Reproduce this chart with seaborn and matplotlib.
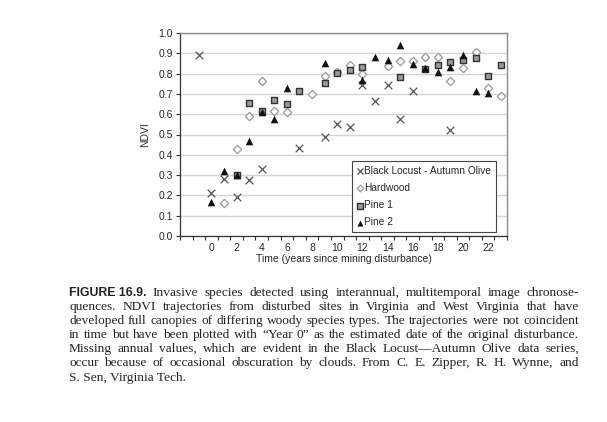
import numpy as np
import pandas as pd
import matplotlib
matplotlib.use('Agg')
import matplotlib.pyplot as plt
import seaborn as sns

# NDVI, year 0 = estimated disturbance date
bl_years = [-1, 0, 1, 2, 3, 4, 7, 9, 10, 11, 12, 13, 14, 15, 16, 19]
bl_ndvi = [0.89, 0.21, 0.28, 0.19, 0.275, 0.33, 0.435, 0.487, 0.554, 0.539,
           0.742, 0.665, 0.746, 0.575, 0.715, 0.521]
hw_years = [1, 2, 3, 4, 5, 6, 8, 9, 10, 11, 12, 14, 15, 16, 17, 18, 19, 20, 21, 22, 23]
hw_ndvi = [0.161, 0.431, 0.59, 0.764, 0.615, 0.61, 0.698, 0.787, 0.81, 0.843, 0.80,
           0.838, 0.862, 0.861, 0.884, 0.884, 0.762, 0.828, 0.907, 0.73, 0.69]
p1_years = [2, 3, 4, 5, 6, 7, 9, 10, 11, 12, 15, 17, 18, 19, 20, 21, 22, 23]
p1_ndvi = [0.30, 0.654, 0.615, 0.669, 0.649, 0.713, 0.754, 0.804, 0.818, 0.832,
           0.784, 0.825, 0.843, 0.857, 0.869, 0.877, 0.786, 0.841]
p2_years = [0, 1, 2, 3, 4, 5, 6, 9, 12, 13, 14, 15, 16, 17, 18, 19, 20, 21, 22]
p2_ndvi = [0.166, 0.32, 0.30, 0.467, 0.61, 0.577, 0.728, 0.853, 0.767, 0.882,
           0.866, 0.94, 0.845, 0.83, 0.81, 0.833, 0.89, 0.712, 0.703]

x_labels = list(range(0, 23, 2))
y_ticks = [round(v * 0.1, 1) for v in range(0, 11)]

caption = [
    "Invasive species detected using interannual, multitemporal image chronose-",
    "quences. NDVI trajectories from disturbed sites in Virginia and West Virginia that have",
    "developed full canopies of differing woody species types. The trajectories were not coincident",
    "in time but have been plotted with \u201cYear 0\u201d as the estimated date of the original disturbance.",
    "Missing annual values, which are evident in the Black Locust\u2014Autumn Olive data series,",
    "occur because of occasional obscuration by clouds. From C. E. Zipper, R. H. Wynne, and",
    "S. Sen, Virginia Tech.",
]

sns.set_theme(style="ticks")
plt.rcParams['font.family'] = ['Liberation Sans', 'DejaVu Sans']

W, H = 607, 422
fig = plt.figure(figsize=(W / 100, H / 100), dpi=100)
ax = fig.add_axes([180 / W, 1 - 236 / H, 327 / W, 203 / H])

series = [
    ('Black Locust - Autumn Olive', bl_years, bl_ndvi,
     dict(marker='x', s=30, color='#555555', linewidth=0.9)),
    ('Hardwood', hw_years, hw_ndvi,
     dict(marker='D', s=18, facecolor='white', edgecolor='#9a9a9a', linewidth=0.9)),
    ('Pine 1', p1_years, p1_ndvi,
     dict(marker='s', s=22, facecolor='#9a9a9a', edgecolor='#333333', linewidth=1.0)),
    ('Pine 2', p2_years, p2_ndvi,
     dict(marker='^', s=30, color='#111111', linewidth=0)),
]
for name, xs, ys, kw in series:
    d = pd.DataFrame({'year': xs, 'ndvi': ys})
    sns.scatterplot(data=d, x='year', y='ndvi', label=name, ax=ax, zorder=3, **kw)

ax.set_xlim(-2.5, 23.5)
ax.set_ylim(0, 1.0)
ax.set_yticks(y_ticks)
ax.set_yticklabels([f'{v:.1f}' for v in y_ticks])
ax.set_xticks(x_labels)
ax.set_xticks(np.arange(-2.5, 23.6, 1), minor=True)
ax.tick_params(axis='x', which='major', length=0, labelsize=7.5, pad=5)
ax.tick_params(axis='x', which='minor', length=3, width=0.8, color='#333333', direction='out')
ax.tick_params(axis='y', length=3, width=0.8, color='#333333', labelsize=7.5, pad=2)
ax.yaxis.grid(True, color='#d4d4d4', linewidth=1.0)
ax.set_axisbelow(True)

for side in ['top', 'right']:
    ax.spines[side].set_color('#8a8a8a')
    ax.spines[side].set_linewidth(1.0)
for side in ['left', 'bottom']:
    ax.spines[side].set_color('#333333')
    ax.spines[side].set_linewidth(0.9)

ax.set_xlabel('Time (years since mining disturbance)', fontsize=7.5, labelpad=1)
ax.set_ylabel('NDVI', fontsize=7.5, labelpad=6)

leg = ax.legend(loc='lower left', bbox_to_anchor=(0.527, 0.018), fontsize=7.3,
                frameon=True, fancybox=False, framealpha=1, edgecolor='#444444',
                labelspacing=0.7, borderpad=0.5, handlelength=0.5, markerscale=0.8,
                handletextpad=0.15, borderaxespad=0)
leg.get_frame().set_linewidth(0.8)

# caption, justified line by line like the book page
fig.canvas.draw()
r = fig.canvas.get_renderer()
bold = dict(family=['Liberation Sans', 'DejaVu Sans'], fontsize=8.8, fontweight='bold',
            color='#222222')


def width_px(word, kw):
    t = fig.text(0, 0, word, **kw)
    w = t.get_window_extent(renderer=r).width
    t.remove()
    return w


x0, x1 = 69, 579
# pick the serif size so the widest full line fills the measure with normal spaces
probe = dict(family=['Liberation Serif', 'DejaVu Serif'], fontsize=10)
widest = max(width_px(line, probe) for line in caption[1:-1])
serif = dict(family=['Liberation Serif', 'DejaVu Serif'],
             fontsize=10 * (x1 - x0) / widest * 0.985, color='#222222')

baselines = [295.7, 309.6, 323.6, 337.6, 351.7, 365.8, 380.5]
for i, line in enumerate(caption):
    y = 1 - baselines[i] / H
    if i == len(caption) - 1:
        fig.text(x0 / W, y, line, va='baseline', ha='left', **serif)
        continue
    words = [(w, serif) for w in line.split(' ')]
    if i == 0:
        words = [('FIGURE 16.9.', bold)] + words
    widths = [width_px(w, kw) for w, kw in words]
    gap = (x1 - x0 - sum(widths)) / (len(words) - 1)
    x = x0
    for (w, kw), wd in zip(words, widths):
        fig.text(x / W, y, w, va='baseline', ha='left', **kw)
        x += wd + gap

plt.savefig('out.png', dpi=100)
plt.close()
